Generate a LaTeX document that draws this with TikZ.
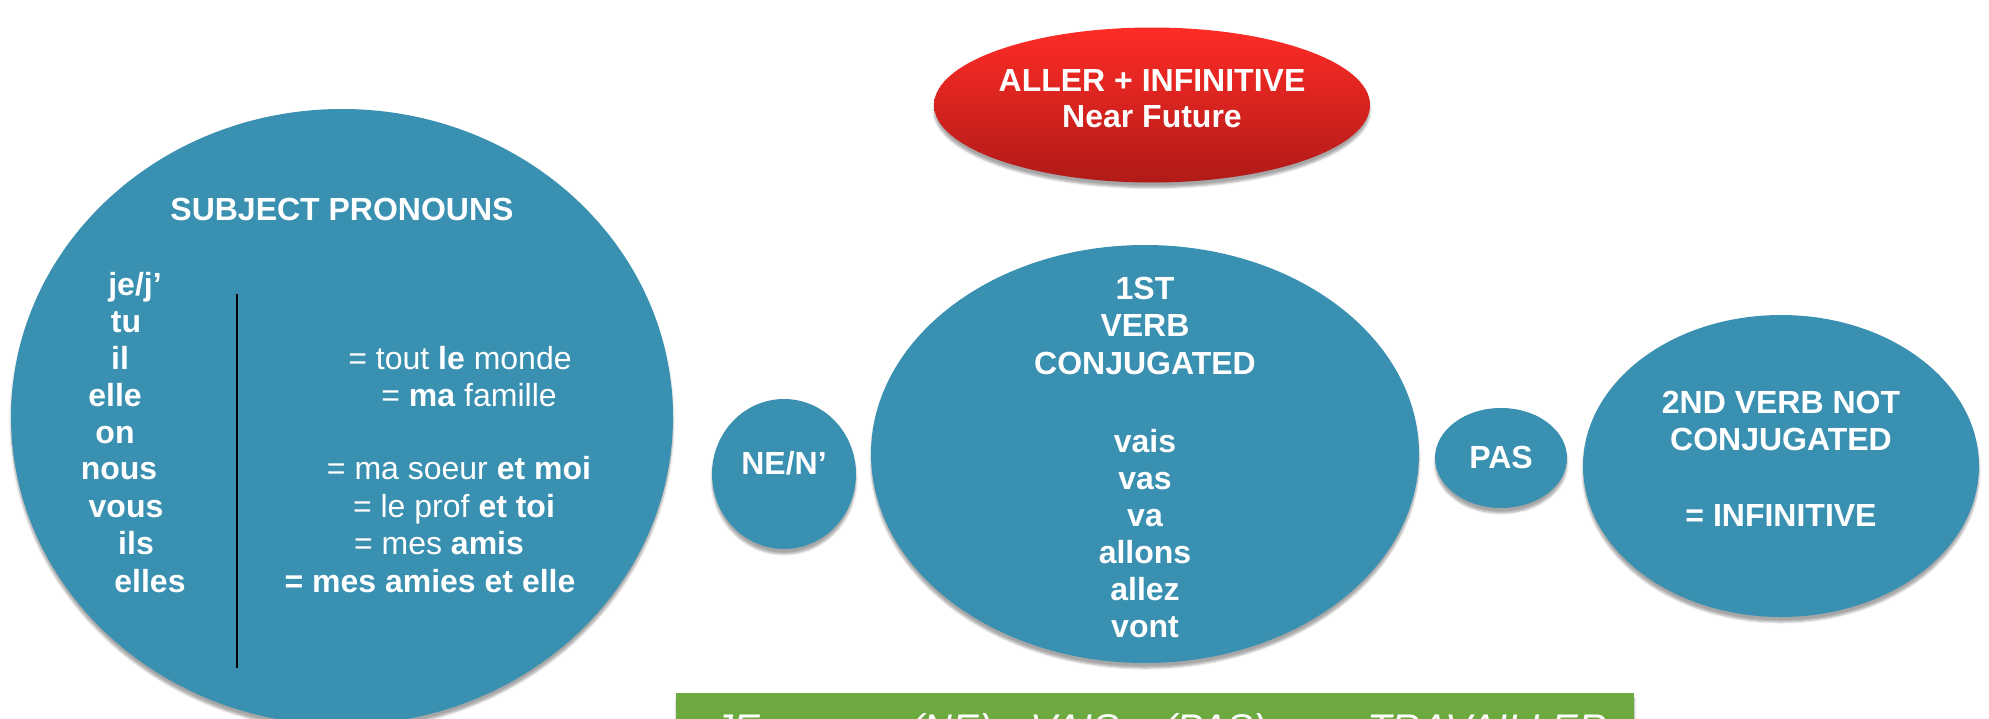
\documentclass[tikz,border=0pt]{standalone}
\usepackage{fontspec}
\setmainfont{Liberation Sans}
\usetikzlibrary{shapes.geometric,shadows.blur}
\definecolor{tealc}{RGB}{58,144,176}
\definecolor{redtop}{RGB}{255,44,38}
\definecolor{redbot}{RGB}{176,26,24}
\definecolor{greenc}{RGB}{108,169,63}
\begin{document}
\begin{tikzpicture}[x=1pt,y=-1pt,
  shad/.style={blur shadow={shadow xshift=0pt, shadow yshift=-5pt, shadow blur steps=6, shadow opacity=35}},
  blob/.style={ellipse, fill=tealc, draw=none, inner sep=0pt, shad},
  lbl/.style={text=white, font=\fontsize{32}{37}\selectfont\bfseries, inner sep=0pt, text height=23pt, text depth=0pt},
  rlbl/.style={text=white, font=\fontsize{32}{37}\selectfont, inner sep=0pt, text height=23pt, text depth=0pt},
  glbl/.style={text=white, font=\fontsize{40}{46}\selectfont\itshape, inner sep=0pt, anchor=base west},
  ]
\useasboundingbox (0,0) rectangle (1989,718);
\begin{scope}
\clip (0,0) rectangle (1989,718);
% shapes
\node[blob, minimum width=662pt, minimum height=616pt] (sp) at (342,417) {};
\node[ellipse, inner sep=0pt, top color=redtop, bottom color=redbot, minimum width=436pt, minimum height=155pt, shad] (aller) at (1152,105) {};
\node[blob, minimum width=548pt, minimum height=418pt] (v1) at (1145,454) {};
\node[blob, minimum width=144pt, minimum height=150pt] (ne) at (784,474) {};
\node[blob, minimum width=132pt, minimum height=100pt] (pas) at (1501,458) {};
\node[blob, minimum width=396pt, minimum height=302pt] (v2) at (1781,466) {};
\node[rectangle, fill=greenc, inner sep=0pt, minimum width=958pt, minimum height=80pt, anchor=north west, shad] (ex) at (676,693) {};

% red
\node[lbl] (t-aller) at (1152,80) {ALLER + INFINITIVE};
\node[lbl] (t-near) at (1152,116) {Near Future};

% subject pronouns
\node[lbl] (t-sp) at (342,209) {SUBJECT PRONOUNS};
\node[lbl] (p1) at (135,284) {je/j’};
\node[lbl] (p2) at (126,321) {tu};
\node[lbl] (p3) at (120,358) {il};
\node[lbl] (p4) at (115,395) {elle};
\node[lbl] (p5) at (115,432) {on};
\node[lbl] (p6) at (119,468) {nous};
\node[lbl] (p7) at (126,506) {vous};
\node[lbl] (p8) at (136,543) {ils};
\node[lbl] (p9) at (150,581) {elles};
\coordinate (ltop) at (237,294);
\coordinate (lbot) at (237,668);
\draw[black, line width=1.2pt] (ltop) -- (lbot);
\node[rlbl] (q1) at (460,358) {= tout \textbf{le} monde};
\node[rlbl] (q2) at (469,395) {= \textbf{ma} famille};
\node[rlbl] (q3) at (459,468) {= ma soeur \textbf{et moi}};
\node[rlbl] (q4) at (454,506) {= le prof \textbf{et toi}};
\node[rlbl] (q5) at (439,543) {= mes \textbf{amis}};
\node[lbl] (q6) at (430,581) {= mes amies et elle};

% NE / PAS
\node[lbl] (t-ne) at (784,463) {NE/N’};
\node[lbl] (t-pas) at (1501,457) {PAS};

% first verb
\node[lbl] (a1) at (1145,288) {1ST};
\node[lbl] (a2) at (1145,325) {VERB};
\node[lbl] (a3) at (1145,363) {CONJUGATED};
\node[lbl] (b1) at (1145,441) {vais};
\node[lbl] (b2) at (1145,478) {vas};
\node[lbl] (b3) at (1145,515) {va};
\node[lbl] (b4) at (1145,552) {allons};
\node[lbl] (b5) at (1145,589) {allez};
\node[lbl] (b6) at (1145,626) {vont};

% second verb
\node[lbl] (c1) at (1781,402) {2ND VERB NOT};
\node[lbl] (c2) at (1781,439) {CONJUGATED};
\node[lbl] (c3) at (1781,515) {= INFINITIVE};

% example bar
\node[glbl] (g1) at (713,742) {JE};
\node[glbl] (g2) at (910,742) {(NE)};
\node[glbl] (g3) at (1030,742) {VAIS};
\node[glbl] (g4) at (1163,742) {(PAS)};
\node[glbl] (g5) at (1367,742) {TRAVAILLER};
\end{scope}
\end{tikzpicture}
\end{document}
